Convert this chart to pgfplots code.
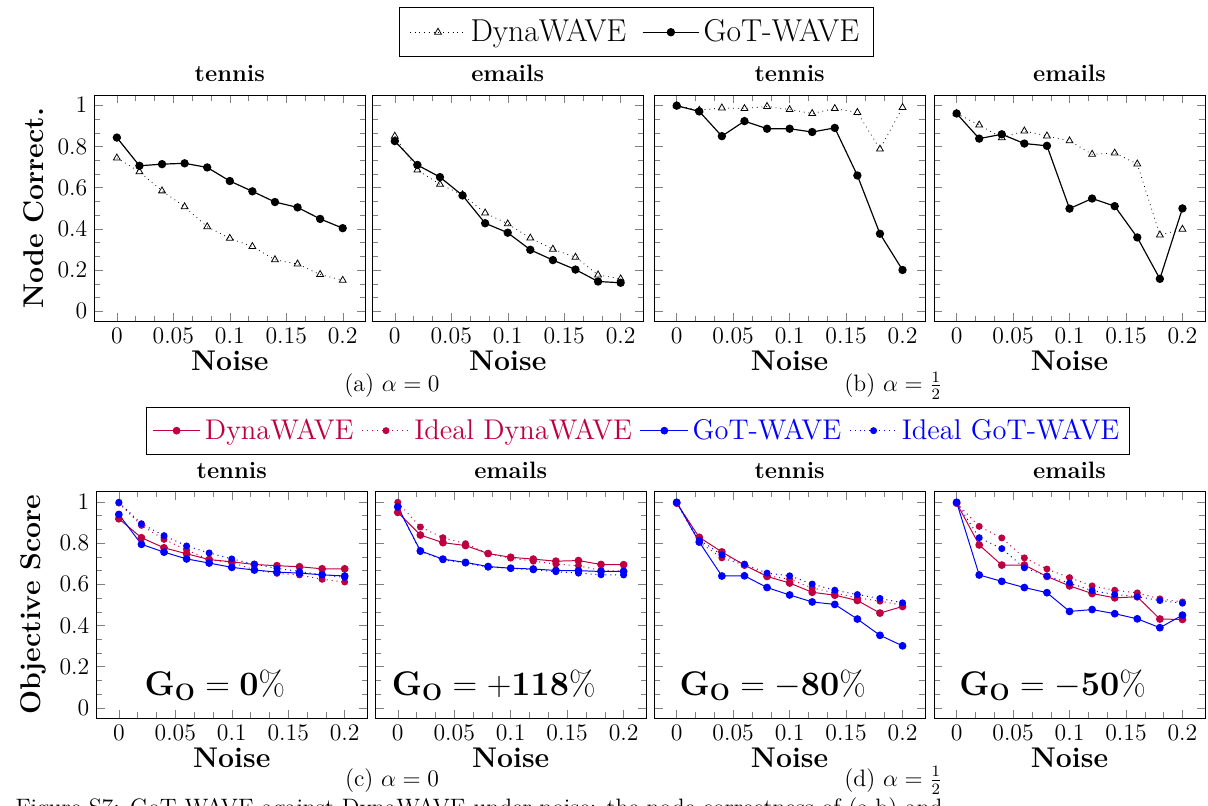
\documentclass[border=0pt]{standalone}
\usepackage{pgfplots}
\pgfplotsset{compat=1.18}
\begin{document}
\tikzset{golabel/.style={font=\LARGE, anchor=base}}
\pgfplotsset{
  panel/.style={scale only axis, width=137pt, height=114.5pt, anchor=north west,
    xmin=-0.02, xmax=0.22, ymin=-0.05, ymax=1.05,
    xtick={0,0.05,0.1,0.15,0.2}, ytick={0,0.2,0.4,0.6,0.8,1},
    minor x tick num=2, minor y tick num=2,
    ticklabel style={font=\large}, xticklabel style={/pgf/number format/fixed},
    scaled x ticks=false,
    xlabel={\textbf{Noise}}, xlabel style={font=\Large, yshift=3pt},
    title style={font=\large\bfseries, yshift=-3pt}},
  noy/.style={yticklabels={}},
  legimg/.style={legend image code/.code={
    \draw[mark repeat=2,mark phase=2] plot coordinates {(0cm,0cm) (#1/2,0cm) (#1,0cm)};}},
  dynT/.style={black, dotted, mark=triangle, mark size=2pt, mark options={solid}},
  gotT/.style={black, line width=0.6pt, mark=*, mark size=1.8pt},
  dyn/.style={purple, line width=0.5pt, mark=*, mark size=1.7pt},
  idyn/.style={purple, dotted, line width=0.5pt, mark=*, mark size=1.5pt, mark options={solid}},
  got/.style={blue, line width=0.5pt, mark=*, mark size=1.7pt},
  igot/.style={blue, dotted, line width=0.5pt, mark=*, mark size=1.5pt, mark options={solid}},
}
\begin{tikzpicture}
\useasboundingbox (0,0) rectangle (604pt,-407pt);

% ---- top row: node correctness ----
\begin{axis}[panel, at={(41pt,-48pt)}, title={tennis},
  ylabel={\textbf{Node Correct.}}, ylabel style={font=\Large},
  legimg=1.0cm, legend columns=-1,
  legend style={at={(2.0,1.277)}, anchor=center, draw=black,
    font=\fontsize{16}{19}\selectfont, inner ysep=4pt, inner xsep=5pt,
    /tikz/every even column/.append style={column sep=6pt}}]
\addplot[dynT] coordinates {(0,0.744) (0.02,0.677) (0.04,0.584) (0.06,0.507) (0.08,0.410) (0.1,0.354) (0.12,0.314) (0.14,0.250) (0.16,0.229) (0.18,0.178) (0.2,0.150)};
\addlegendentry{DynaWAVE}
\addplot[gotT] coordinates {(0,0.843) (0.02,0.706) (0.04,0.714) (0.06,0.718) (0.08,0.698) (0.1,0.632) (0.12,0.582) (0.14,0.530) (0.16,0.504) (0.18,0.448) (0.2,0.403)};
\addlegendentry{GoT-WAVE}
\end{axis}

\begin{axis}[panel, noy, at={(181.5pt,-48pt)}, title={emails}]
\addplot[dynT] coordinates {(0,0.850) (0.02,0.685) (0.04,0.616) (0.06,0.565) (0.08,0.477) (0.1,0.424) (0.12,0.355) (0.14,0.301) (0.16,0.262) (0.18,0.176) (0.2,0.157)};
\addplot[gotT] coordinates {(0,0.826) (0.02,0.710) (0.04,0.651) (0.06,0.562) (0.08,0.427) (0.1,0.381) (0.12,0.298) (0.14,0.248) (0.16,0.202) (0.18,0.144) (0.2,0.138)};
\end{axis}

\begin{axis}[panel, noy, at={(324pt,-48pt)}, title={tennis}]
\addplot[dynT] coordinates {(0,0.998) (0.02,0.976) (0.04,0.987) (0.06,0.984) (0.08,0.994) (0.1,0.979) (0.12,0.960) (0.14,0.984) (0.16,0.965) (0.18,0.787) (0.2,0.989)};
\addplot[gotT] coordinates {(0,0.998) (0.02,0.970) (0.04,0.850) (0.06,0.923) (0.08,0.886) (0.1,0.886) (0.12,0.870) (0.14,0.890) (0.16,0.659) (0.18,0.376) (0.2,0.200)};
\end{axis}

\begin{axis}[panel, noy, at={(465.5pt,-48pt)}, title={emails}]
\addplot[dynT] coordinates {(0,0.960) (0.02,0.904) (0.04,0.842) (0.06,0.875) (0.08,0.851) (0.1,0.827) (0.12,0.762) (0.14,0.768) (0.16,0.715) (0.18,0.370) (0.2,0.398)};
\addplot[gotT] coordinates {(0,0.960) (0.02,0.838) (0.04,0.859) (0.06,0.814) (0.08,0.803) (0.1,0.498) (0.12,0.547) (0.14,0.510) (0.16,0.358) (0.18,0.157) (0.2,0.499)};
\end{axis}

\node[font=\large, anchor=base] at (191.5pt,-198pt) {(a) $\alpha = 0$};
\node[font=\large, anchor=base] at (445pt,-198pt) {(b) $\alpha = \frac{1}{2}$};

% ---- bottom row: objective score ----
\begin{axis}[panel, at={(42pt,-248.5pt)}, title={tennis},
  ylabel={\textbf{Objective Score}}, ylabel style={font=\Large},
  legimg=0.85cm, legend columns=-1,
  legend style={at={(1.998,1.269)}, anchor=center, draw=black, font=\Large,
    inner ysep=4pt, /tikz/every even column/.append style={column sep=2pt}}]
\addplot[dyn] coordinates {(0,0.918) (0.02,0.826) (0.04,0.777) (0.06,0.748) (0.08,0.720) (0.1,0.709) (0.12,0.696) (0.14,0.690) (0.16,0.685) (0.18,0.675) (0.2,0.675)};
\addlegendentry{\textcolor{purple}{DynaWAVE}}
\addplot[idyn] coordinates {(0,0.994) (0.02,0.886) (0.04,0.818) (0.06,0.767) (0.08,0.719) (0.1,0.706) (0.12,0.670) (0.14,0.653) (0.16,0.645) (0.18,0.624) (0.2,0.611)};
\addlegendentry{\textcolor{purple}{Ideal DynaWAVE}}
\addplot[got] coordinates {(0,0.939) (0.02,0.794) (0.04,0.756) (0.06,0.723) (0.08,0.703) (0.1,0.682) (0.12,0.669) (0.14,0.659) (0.16,0.654) (0.18,0.646) (0.2,0.640)};
\addlegendentry{\textcolor{blue}{GoT-WAVE}}
\addplot[igot] coordinates {(0,0.998) (0.02,0.894) (0.04,0.836) (0.06,0.786) (0.08,0.752) (0.1,0.723) (0.12,0.698) (0.14,0.677) (0.16,0.662) (0.18,0.646) (0.2,0.633)};
\addlegendentry{\textcolor{blue}{Ideal GoT-WAVE}}
\node[golabel] at (axis cs:0.085,0.058) {$\mathbf{G_O = 0}\%$};
\end{axis}

\begin{axis}[panel, noy, at={(183pt,-248.5pt)}, title={emails}]
\addplot[dyn] coordinates {(0,0.949) (0.02,0.839) (0.04,0.802) (0.06,0.788) (0.08,0.749) (0.1,0.731) (0.12,0.722) (0.14,0.712) (0.16,0.715) (0.18,0.696) (0.2,0.695)};
\addplot[idyn] coordinates {(0,0.998) (0.02,0.878) (0.04,0.826) (0.06,0.797) (0.08,0.749) (0.1,0.727) (0.12,0.712) (0.14,0.698) (0.16,0.690) (0.18,0.667) (0.2,0.664)};
\addplot[got] coordinates {(0,0.976) (0.02,0.762) (0.04,0.722) (0.06,0.706) (0.08,0.686) (0.1,0.678) (0.12,0.674) (0.14,0.667) (0.16,0.666) (0.18,0.662) (0.2,0.662)};
\addplot[igot] coordinates {(0,0.976) (0.02,0.759) (0.04,0.719) (0.06,0.703) (0.08,0.683) (0.1,0.677) (0.12,0.670) (0.14,0.661) (0.16,0.654) (0.18,0.646) (0.2,0.645)};
\node[golabel] at (axis cs:0.085,0.058) {$\mathbf{G_O = +118}\%$};
\end{axis}

\begin{axis}[panel, noy, at={(324pt,-248.5pt)}, title={tennis}]
\addplot[dyn] coordinates {(0,0.994) (0.02,0.828) (0.04,0.757) (0.06,0.693) (0.08,0.638) (0.1,0.606) (0.12,0.561) (0.14,0.547) (0.16,0.521) (0.18,0.460) (0.2,0.492)};
\addplot[idyn] coordinates {(0,0.994) (0.02,0.804) (0.04,0.728) (0.06,0.693) (0.08,0.641) (0.1,0.625) (0.12,0.582) (0.14,0.558) (0.16,0.534) (0.18,0.518) (0.2,0.498)};
\addplot[got] coordinates {(0,0.998) (0.02,0.805) (0.04,0.640) (0.06,0.641) (0.08,0.584) (0.1,0.548) (0.12,0.514) (0.14,0.502) (0.16,0.431) (0.18,0.352) (0.2,0.301)};
\addplot[igot] coordinates {(0,0.998) (0.02,0.815) (0.04,0.743) (0.06,0.698) (0.08,0.654) (0.1,0.641) (0.12,0.601) (0.14,0.571) (0.16,0.550) (0.18,0.531) (0.2,0.510)};
\node[golabel] at (axis cs:0.085,0.058) {$\mathbf{G_O = -80}\%$};
\end{axis}

\begin{axis}[panel, noy, at={(465.5pt,-248.5pt)}, title={emails}]
\addplot[dyn] coordinates {(0,0.994) (0.02,0.791) (0.04,0.693) (0.06,0.693) (0.08,0.638) (0.1,0.592) (0.12,0.555) (0.14,0.534) (0.16,0.539) (0.18,0.431) (0.2,0.429)};
\addplot[idyn] coordinates {(0,0.994) (0.02,0.881) (0.04,0.825) (0.06,0.728) (0.08,0.674) (0.1,0.632) (0.12,0.592) (0.14,0.571) (0.16,0.558) (0.18,0.529) (0.2,0.514)};
\addplot[got] coordinates {(0,0.998) (0.02,0.645) (0.04,0.614) (0.06,0.584) (0.08,0.559) (0.1,0.468) (0.12,0.477) (0.14,0.457) (0.16,0.432) (0.18,0.389) (0.2,0.450)};
\addplot[igot] coordinates {(0,0.998) (0.02,0.826) (0.04,0.773) (0.06,0.680) (0.08,0.640) (0.1,0.606) (0.12,0.569) (0.14,0.550) (0.16,0.540) (0.18,0.521) (0.2,0.508)};
\node[golabel] at (axis cs:0.085,0.058) {$\mathbf{G_O = -50}\%$};
\end{axis}

\node[font=\large, anchor=base] at (191.5pt,-397.5pt) {(c) $\alpha = 0$};
\node[font=\large, anchor=base] at (445pt,-397.5pt) {(d) $\alpha = \frac{1}{2}$};
\node[font=\large, anchor=base west, inner sep=0pt] at (1pt,-412pt) {Figure S7: GoT-WAVE against DynaWAVE under noise: the node correctness of (a,b) and};
\end{tikzpicture}
\end{document}
